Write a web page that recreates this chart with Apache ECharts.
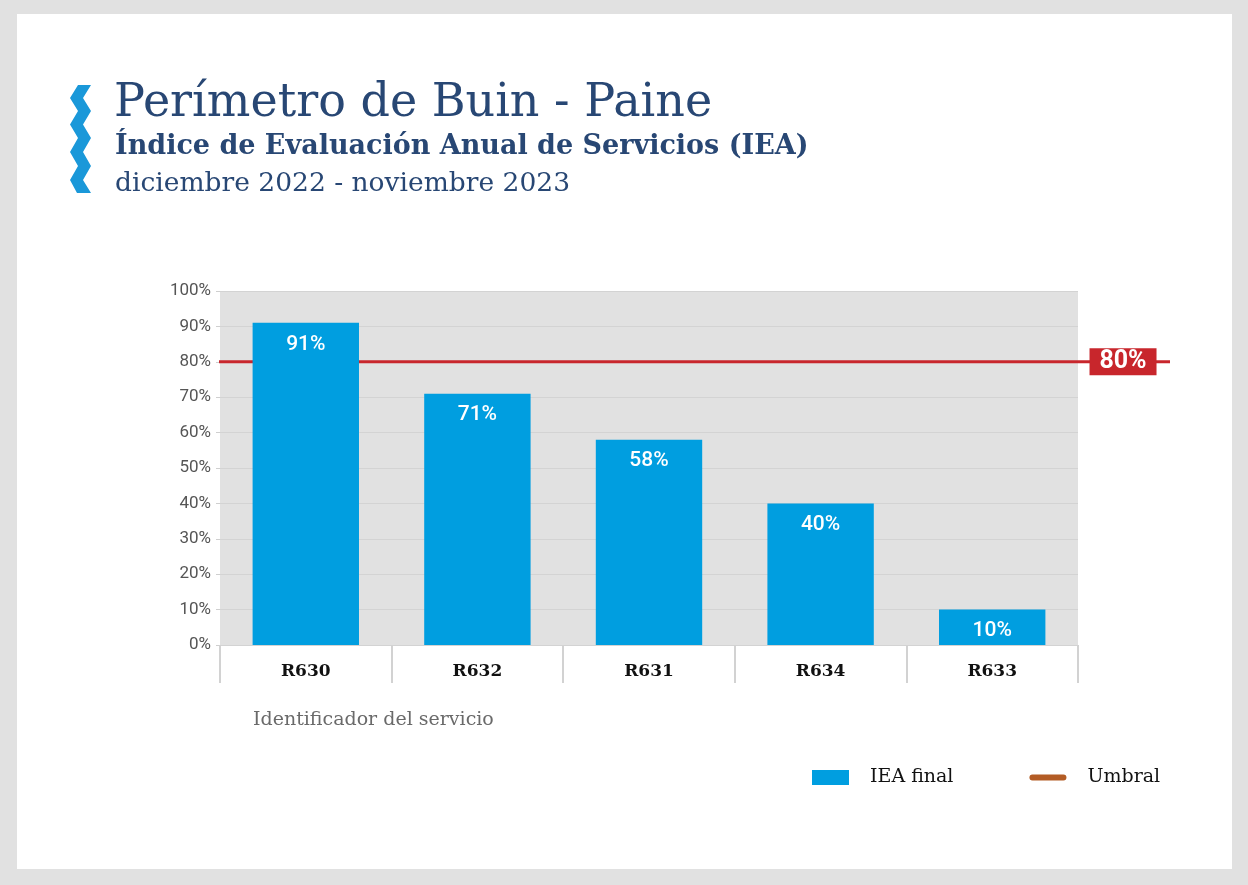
<!DOCTYPE html>
<html>
<head>
<meta charset="utf-8">
<script src="https://cdn.jsdelivr.net/npm/echarts@6/dist/echarts.min.js"></script>
<style>
  html, body { margin:0; padding:0; background:#e1e1e1; width:1248px; height:885px; overflow:hidden; }
  #card { position:absolute; left:17px; top:14px; width:1215px; height:855px; background:#ffffff; }
  #chart { position:absolute; left:0; top:0; width:1248px; height:885px; }
</style>
</head>
<body>
<div id="card"></div>
<div id="chart"></div>
<script>
const categories = ['R630', 'R632', 'R631', 'R634', 'R633'];
const ieaValues = [91, 71, 58, 40, 10];
const thresholdValue = 80;
const yTicks = [0, 10, 20, 30, 40, 50, 60, 70, 80, 90, 100];
const seriesNames = ['IEA final', 'Umbral'];
const titleText = 'Perímetro de Buin - Paine';
const subtitleText = 'Índice de Evaluación Anual de Servicios (IEA)';
const periodText = 'diciembre 2022 - noviembre 2023';
const xAxisTitle = 'Identificador del servicio';

const chart = echarts.init(document.getElementById('chart'), null, { renderer: 'canvas' });
const navy = '#284774';
const serif = '"DejaVu Serif", serif';

const option = {
  backgroundColor: 'transparent',
  animation: false,
  title: [
    { text: titleText, left: 109, top: 76, textStyle: { fontFamily: serif, fontSize: 46, fontWeight: 'normal', color: navy } },
    { text: subtitleText, left: 110, top: 128, textStyle: { fontFamily: serif, fontSize: 27, fontWeight: 'bold', color: navy } },
    { text: periodText, left: 110, top: 166, textStyle: { fontFamily: serif, fontSize: 26.5, fontWeight: 'normal', color: navy } },
    { text: xAxisTitle, left: 248, top: 706, textStyle: { fontFamily: serif, fontSize: 19, fontWeight: 'normal', color: '#6a6a6a' } }
  ],
  graphic: [
    {
      type: 'polygon',
      shape: { points: [[78,85],[70,98],[78,111],[70,124.5],[78,138],[70,152],[78,166],[70,180],[77,193],[91,193],[83,180],[91,166],[83,152],[91,138],[83,124.5],[91,111],[83,98],[91,85]] },
      style: { fill: '#1a98d9' }
    }
  ],
  legend: {
    left: 807, top: 763,
    itemWidth: 37, itemHeight: 15, itemGap: 76,
    textStyle: { fontFamily: serif, fontSize: 19, color: '#111', padding: [0, 0, 0, 16] },
    data: [
      { name: seriesNames[0], icon: 'rect' },
      { name: seriesNames[1], icon: 'path://M3,0 L34,0 A3,3 0 0 1 34,6 L3,6 A3,3 0 0 1 3,0 Z', itemStyle: { color: '#b35c25' } }
    ]
  },
  grid: [
    { left: 220, right: 170, top: 291, bottom: 240, show: true, backgroundColor: '#e1e1e1', borderWidth: 0 },
    { left: 219, right: 78, top: 291, bottom: 240, show: false }
  ],
  xAxis: [
    {
      type: 'category', gridIndex: 0, data: categories,
      axisLine: { show: false },
      axisTick: { show: true, length: 38, interval: 0, alignWithLabel: false, lineStyle: { color: '#d2d2d2', width: 2 } },
      axisLabel: { margin: 18, fontFamily: serif, fontSize: 17, fontWeight: 'bold', color: '#111' }
    },
    { type: 'value', gridIndex: 1, min: 0, max: 1, show: false }
  ],
  yAxis: [
    {
      type: 'value', gridIndex: 0, min: 0, max: 100, interval: 10,
      axisLine: { show: false },
      axisTick: { show: true, length: 4, lineStyle: { color: '#cfcfcf' } },
      splitLine: { show: true, lineStyle: { color: '#d3d3d3', width: 1 } },
      axisLabel: { margin: 9, formatter: '{value}%', fontFamily: 'Roboto, sans-serif', fontSize: 17, color: '#555' }
    },
    { type: 'value', gridIndex: 1, min: 0, max: 100, show: false }
  ],
  series: [
    {
      name: seriesNames[0], type: 'bar', xAxisIndex: 0, yAxisIndex: 0, z: 3,
      data: ieaValues, barWidth: '62%',
      itemStyle: { color: '#009ee0' },
      label: { show: true, position: 'insideTop', distance: 11, formatter: '{c}%', fontFamily: 'Roboto, sans-serif', fontSize: 21, fontWeight: 500, color: '#ffffff' }
    },
    {
      name: seriesNames[1], type: 'line', xAxisIndex: 1, yAxisIndex: 1, z: 1,
      data: [[0, thresholdValue], [1, thresholdValue]],
      symbol: 'none',
      lineStyle: { color: '#c8262c', width: 3 },
      itemStyle: { color: '#b35c25' },
      markPoint: {
        symbol: 'rect', symbolSize: [67, 27], z: 6,
        itemStyle: { color: '#c8262c' },
        label: { show: true, formatter: thresholdValue + '%', fontFamily: 'Roboto, sans-serif', fontSize: 25, fontWeight: 'bold', color: '#ffffff' },
        data: [{ coord: [0.9506, thresholdValue] }]
      }
    }
  ]
};
chart.setOption(option);
</script>
</body>
</html>
